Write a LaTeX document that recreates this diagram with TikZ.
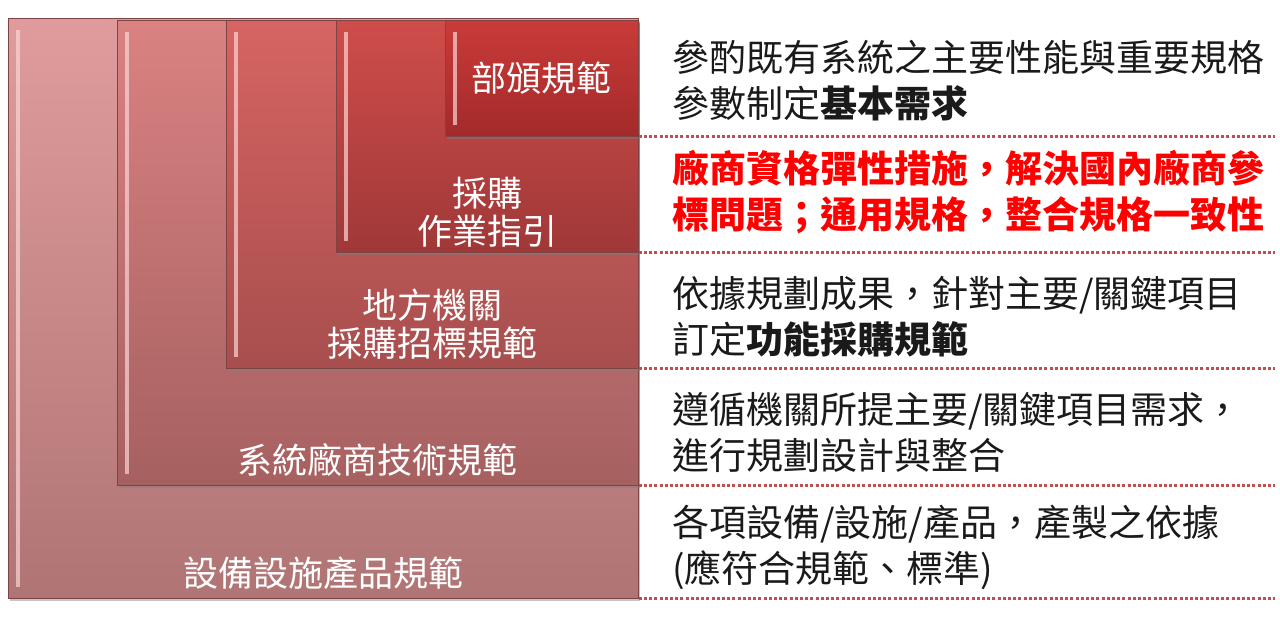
\documentclass[tikz,border=0pt]{standalone}
\usepackage{fontspec}
\setmainfont{Noto Sans CJK TC}[Script=CJK,Language=Chinese Traditional]
\usepackage{xcolor}
\usetikzlibrary{shadows}
\definecolor{cNivAt}{HTML}{E09C9C}
\definecolor{cNivAb}{HTML}{B07474}
\definecolor{cNivBt}{HTML}{DA8282}
\definecolor{cNivBb}{HTML}{A66060}
\definecolor{cNivCt}{HTML}{D66462}
\definecolor{cNivCb}{HTML}{A84E4E}
\definecolor{cNivDt}{HTML}{CF4D4A}
\definecolor{cNivDb}{HTML}{A03838}
\definecolor{cNivEt}{HTML}{C93B39}
\definecolor{cNivEb}{HTML}{A32A2A}
\definecolor{cBorda}{HTML}{7E4444}
\definecolor{cBrilho}{HTML}{FBD4D4}
\definecolor{cPonto}{HTML}{C0504D}
\definecolor{cTexto}{HTML}{1A1A1A}
\definecolor{cAlerta}{HTML}{FF0000}

\begin{document}
\begin{tikzpicture}[
  x=1pt,y=1pt,
  lvl/.style={draw=cBorda,line width=0.8pt,anchor=north west,inner sep=0pt,
              drop shadow={shadow xshift=1.5pt,shadow yshift=-2.5pt,opacity=.45}},
  hl/.style={draw=cBrilho,line width=3.4pt,opacity=.7},
  lbl/.style={align=center,text=white,inner sep=0pt,
              font=\fontsize{35pt}{38pt}\selectfont},
  dsc/.style={align=left,anchor=west,text=cTexto,inner sep=0pt,
              font=\fontsize{37pt}{46pt}\selectfont},
  sep/.style={draw=cPonto,line width=3pt,dash pattern=on 3pt off 2.2pt}
]
\useasboundingbox (0,0) rectangle (1280,-628);

% ---- niveis (de fora para dentro)
\node[lvl,top color=cNivAt,bottom color=cNivAb,minimum width=630pt,minimum height=580pt] (n1) at (8,-18) {};
\node[lvl,top color=cNivBt,bottom color=cNivBb,minimum width=521pt,minimum height=465pt] (n2) at (117,-20) {};
\node[lvl,top color=cNivCt,bottom color=cNivCb,minimum width=412pt,minimum height=348pt] (n3) at (226,-20) {};
\node[lvl,top color=cNivDt,bottom color=cNivDb,minimum width=302pt,minimum height=232pt] (n4) at (336,-20) {};
\node[lvl,top color=cNivEt,bottom color=cNivEb,minimum width=193pt,minimum height=116pt] (n5) at (445,-20) {};
\foreach \b in {n1,n2,n3,n4,n5}
  \draw[hl] ([xshift=10pt,yshift=-12pt]\b.north west) -- ([xshift=10pt,yshift=12pt]\b.south west);

% ---- rotulos
\node[lbl] (t5) at (541,-78)  {部頒規範};
\node[lbl] (t4) at (487,-212) {採購\\作業指引};
\node[lbl] (t3) at (432,-324) {地方機關\\採購招標規範};
\node[lbl] (t2) at (377,-460) {系統廠商技術規範};
\node[lbl] (t1) at (323,-573) {設備設施產品規範};

% ---- descricoes
\node[dsc] (d5) at (672,-81)  {參酌既有系統之主要性能與重要規格\\參數制定\textbf{基本需求}};
\node[dsc,text=cAlerta,font=\fontsize{37pt}{46pt}\selectfont\bfseries] (d4) at (672,-192)
      {廠商資格彈性措施，解決國內廠商參\\標問題；通用規格，整合規格一致性};
\node[dsc] (d3) at (672,-317) {依據規劃成果，針對主要/關鍵項目\\訂定\textbf{功能採購規範}};
\node[dsc] (d2) at (672,-432) {遵循機關所提主要/關鍵項目需求，\\進行規劃設計與整合};
\node[dsc] (d1) at (672,-547) {各項設備/設施/產品，產製之依據\\(應符合規範、標準)};

% ---- linhas pontilhadas
\coordinate (rgt) at (1275,0);
\foreach \b in {n5,n4,n3,n2,n1}
  \draw[sep] (\b.south east) -- (\b.south east -| rgt);
\end{tikzpicture}
\end{document}
